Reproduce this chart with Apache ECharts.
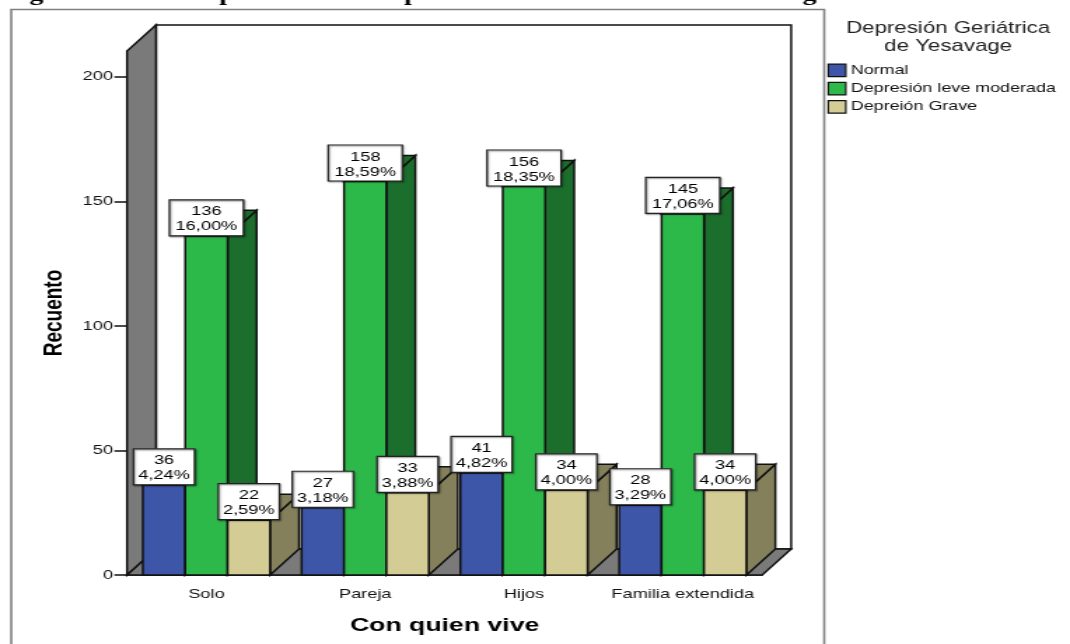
<!DOCTYPE html>
<html>
<head>
<meta charset="utf-8">
<style>
html,body{margin:0;padding:0;background:#fff;overflow:hidden;width:1070px;height:644px}
#c{width:764px;height:644px;transform:scaleX(1.40052);transform-origin:0 0}
</style>
<script src="https://cdn.jsdelivr.net/npm/echarts@6/dist/echarts.min.js"></script>
</head>
<body>
<div id="c"></div>
<script>
const categories = ['Solo', 'Pareja', 'Hijos', 'Familia extendida'];
const seriesNames = ['Normal', 'Depresión leve moderada', 'Depreión Grave'];
const normalValues = [36, 27, 41, 28];
const leveValues = [136, 158, 156, 145];
const graveValues = [22, 33, 34, 34];
const normalPercent = ['4,24%', '3,18%', '4,82%', '3,29%'];
const levePercent = ['16,00%', '18,59%', '18,35%', '17,06%'];
const gravePercent = ['2,59%', '3,88%', '4,00%', '4,00%'];
const yTicks = [0, 50, 100, 150, 200];
const legendTitle = 'Depresión Geriátrica\nde Yesavage';
const xTitle = 'Con quien vive';
const yTitle = 'Recuento';
const croppedCaptionGlyphs = ['g', 'p', 'p', 'g'];

const FONT = '"Liberation Sans", Arial, sans-serif';
const DX = 20.7, DY = 26, BAR_SHARE = 0.267, LINE = 1.5, INK = '#111';
const palette = [
  { front: '#3d56a8', side: '#2c3f7c' },
  { front: '#2db84a', side: '#1c6e2d' },
  { front: '#d3cc95', side: '#85805c' }
];
const captionX = [26, 162, 294, 578];

function wallRender(params, api) {
  const g = params.coordSys;
  const l = g.x, r = g.x + g.width, t = g.y, b = g.y + g.height;
  const st = { stroke: INK, lineWidth: LINE };
  return { type: 'group', children: [
    { type: 'polygon', z2: 1, shape: { points: [[l + DX, t - DY], [r + DX, t - DY], [r + DX, b - DY], [l + DX, b - DY]] }, style: { fill: '#fff', ...st } },
    { type: 'polygon', z2: 2, shape: { points: [[l, b], [l, t], [l + DX, t - DY], [l + DX, b - DY]] }, style: { fill: '#7a7a7a', ...st } },
    { type: 'polygon', z2: 2, shape: { points: [[l, b], [r, b], [r + DX, b - DY], [l + DX, b - DY]] }, style: { fill: '#7a7a7a', ...st } }
  ]};
}

function barRender(idx, percents) {
  return function (params, api) {
    const cat = api.value(0), val = api.value(1);
    const band = api.size([1, 0])[0];
    const w = band * BAR_SHARE;
    const c = api.coord([cat, val]);
    const base = api.coord([cat, 0]);
    const x0 = c[0] + (idx - 1) * w - w / 2, x1 = x0 + w, top = c[1], bot = base[1];
    const st = { stroke: INK, lineWidth: LINE, lineJoin: 'miter' };
    const pct = percents[cat];
    const cx = (x0 + x1) / 2, bw = pct.length > 5 ? 52.9 : 43.6, bh = 36;
    return { type: 'group', children: [
      { type: 'polygon', z2: 10, shape: { points: [[x1, bot], [x1, top], [x1 + DX, top - DY], [x1 + DX, bot - DY]] }, style: { fill: palette[idx].side, ...st } },
      { type: 'polygon', z2: 10, shape: { points: [[x0, top], [x1, top], [x1 + DX, top - DY], [x0 + DX, top - DY]] }, style: { fill: palette[idx].side, ...st } },
      { type: 'rect', z2: 10, shape: { x: x0, y: top, width: w, height: bot - top }, style: { fill: palette[idx].front, ...st } },
      { type: 'rect', z2: 100, shape: { x: cx - bw / 2, y: top - bh - 0.5, width: bw, height: bh },
        style: { fill: '#fff', stroke: '#222', lineWidth: 1.2, shadowColor: 'rgba(0,0,0,0.45)', shadowBlur: 1.5, shadowOffsetX: 0.8, shadowOffsetY: 1 } },
      { type: 'text', z2: 101, x: cx, y: top - bh / 2 + 1,
        style: { text: val + '\n' + pct, fill: '#000', font: '13px ' + FONT, align: 'center', verticalAlign: 'middle', lineHeight: 15 } }
    ]};
  };
}

function toData(values) { return values.map((v, i) => [i, v]); }

const chart = echarts.init(document.getElementById('c'), null, { width: 764, height: 644, renderer: 'canvas' });
chart.setOption({
  animation: false,
  backgroundColor: '#fff',
  textStyle: { fontFamily: FONT },
  title: {
    text: legendTitle, left: 672, top: 15, textAlign: 'center',
    textStyle: { fontFamily: FONT, fontSize: 15.9, fontWeight: 'normal', color: '#222', lineHeight: 18 }
  },
  legend: {
    data: seriesNames.map((n, i) => ({ name: n, icon: 'rect', itemStyle: { color: palette[i].front, borderColor: INK, borderWidth: 1.2 } })),
    orient: 'vertical', left: 590.8, top: 63.5, itemWidth: 12.5, itemHeight: 12.5, itemGap: 4.6, padding: 0,
    textStyle: { fontFamily: FONT, fontSize: 12.8, color: '#111', padding: [0, 0, 0, -1.5] }
  },
  graphic: [
    { type: 'rect', z: -1, silent: true, shape: { x: 8, y: 9.5, width: 580.5, height: 700 }, style: { fill: 'none', stroke: '#808080', lineWidth: 1.6 } }
  ].concat(croppedCaptionGlyphs.map((ch, i) => ({
    type: 'text', z: -1, silent: true, x: captionX[i], y: 5,
    style: { text: ch, font: 'bold 20px "Liberation Serif", serif', fill: '#000', align: 'center', verticalAlign: 'bottom' }
  }))),
  grid: { left: 90.7, top: 51, width: 453.5, height: 524, outerBoundsMode: 'none' },
  xAxis: {
    type: 'category', data: categories,
    name: xTitle, nameLocation: 'middle', nameGap: 41,
    nameTextStyle: { fontFamily: FONT, fontSize: 19, fontWeight: 'bold', color: '#000' },
    axisLine: { lineStyle: { color: INK, width: LINE } },
    axisTick: { alignWithLabel: true, length: 7, lineStyle: { color: INK, width: LINE } },
    axisLabel: { fontFamily: FONT, fontSize: 13, color: '#111', margin: 13, interval: 0 }
  },
  yAxis: {
    type: 'value', min: 0, max: 210.4,
    name: yTitle, nameLocation: 'middle', nameGap: 42, nameRotate: 90,
    nameTextStyle: { fontFamily: FONT, fontSize: 19, fontWeight: 'bold', color: '#000' },
    splitLine: { show: false },
    axisLine: { show: true, lineStyle: { color: INK, width: LINE } },
    axisTick: { show: true, length: 9, customValues: yTicks, lineStyle: { color: INK, width: LINE } },
    axisLabel: { fontFamily: FONT, fontSize: 13, color: '#111', margin: 10, customValues: yTicks }
  },
  series: [
    { type: 'custom', name: '_walls', silent: true, z: 1, data: [[0, 0]], renderItem: wallRender, clip: false },
    { type: 'custom', name: seriesNames[0], z: 2, data: toData(normalValues), encode: { x: 0, y: 1 }, itemStyle: { color: palette[0].front }, renderItem: barRender(0, normalPercent), clip: false },
    { type: 'custom', name: seriesNames[1], z: 2, data: toData(leveValues), encode: { x: 0, y: 1 }, itemStyle: { color: palette[1].front }, renderItem: barRender(1, levePercent), clip: false },
    { type: 'custom', name: seriesNames[2], z: 2, data: toData(graveValues), encode: { x: 0, y: 1 }, itemStyle: { color: palette[2].front }, renderItem: barRender(2, gravePercent), clip: false }
  ]
});
</script>
</body>
</html>
